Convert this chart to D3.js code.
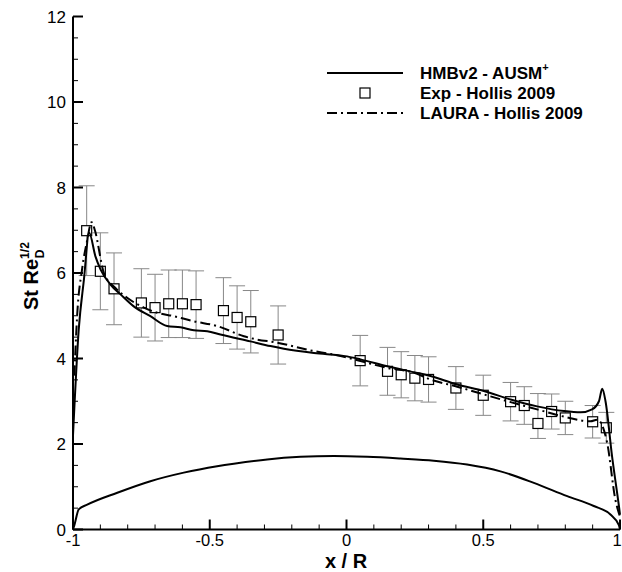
<!DOCTYPE html>
<html>
<head>
<meta charset="utf-8">
<script src="https://cdn.jsdelivr.net/npm/d3@7"></script>
<style>
  body { margin: 0; background: #fff; }
  svg { display: block; font-family: "Liberation Sans", Arial, sans-serif; }
</style>
</head>
<body>
<div id="chart"></div>
<script>
// HMBv2 - AUSM+ (solid)
const hmbX = [-1, -0.979, -0.96, -0.941, -0.918, -0.899, -0.863, -0.826, -0.778, -0.717, -0.656, -0.607, -0.558, -0.509, -0.461, -0.351, -0.278, -0.229, -0.119, 0.002, 0.051, 0.149, 0.246, 0.307, 0.405, 0.502, 0.6, 0.697, 0.795, 0.856, 0.898, 0.923, 0.935, 0.947, 0.971, 0.996, 1];
const hmbY = [2.2, 4.68, 5.85, 6.94, 6.39, 6.08, 5.73, 5.5, 5.22, 4.99, 4.76, 4.73, 4.66, 4.64, 4.56, 4.4, 4.29, 4.23, 4.13, 4.05, 3.98, 3.82, 3.68, 3.59, 3.39, 3.24, 3.04, 2.88, 2.77, 2.74, 2.81, 3.0, 3.29, 3.0, 1.71, 0.55, 0.35];

// LAURA - Hollis 2009 (dash-dot)
const lauraX = [-0.995, -0.985, -0.967, -0.949, -0.932, -0.92, -0.887, -0.845, -0.802, -0.741, -0.692, -0.631, -0.558, -0.473, -0.375, -0.339, -0.253, -0.132, -0.046, 0.051, 0.149, 0.246, 0.307, 0.405, 0.502, 0.6, 0.697, 0.795, 0.892, 0.917, 0.953, 0.983, 1];
const lauraY = [3.6, 4.99, 6.08, 6.74, 7.19, 7.0, 6.0, 5.65, 5.42, 5.19, 5.07, 4.99, 4.87, 4.76, 4.52, 4.46, 4.37, 4.19, 4.09, 3.94, 3.78, 3.67, 3.51, 3.34, 3.16, 2.98, 2.81, 2.64, 2.53, 2.57, 2.03, 0.7, 0.3];

// body contour
const bodyX = [-1, -0.995, -0.979, -0.948, -0.838, -0.717, -0.595, -0.473, -0.412, -0.29, -0.168, -0.046, 0.076, 0.197, 0.319, 0.441, 0.563, 0.685, 0.807, 0.904, 0.965, 0.996, 1];
const bodyY = [0, 0.1, 0.47, 0.58, 0.86, 1.13, 1.33, 1.48, 1.54, 1.64, 1.7, 1.72, 1.7, 1.66, 1.61, 1.52, 1.36, 1.09, 0.78, 0.55, 0.35, 0.1, 0];

// Exp - Hollis 2009
const expX = [-0.95, -0.9, -0.85, -0.75, -0.7, -0.65, -0.6, -0.55, -0.45, -0.4, -0.35, -0.25, 0.05, 0.15, 0.2, 0.25, 0.3, 0.4, 0.5, 0.6, 0.65, 0.7, 0.75, 0.8, 0.9, 0.95];
const expY = [6.99, 6.04, 5.63, 5.3, 5.19, 5.28, 5.28, 5.26, 5.12, 4.96, 4.86, 4.55, 3.95, 3.7, 3.62, 3.54, 3.51, 3.31, 3.14, 2.99, 2.9, 2.48, 2.76, 2.61, 2.52, 2.38];
const expHi = [8.04, 6.94, 6.47, 6.1, 5.97, 6.07, 6.07, 6.05, 5.89, 5.7, 5.59, 5.23, 4.54, 4.26, 4.16, 4.07, 4.04, 3.81, 3.61, 3.44, 3.34, 3.18, 3.17, 3.0, 2.9, 2.74];
const expLo = [5.94, 5.14, 4.79, 4.5, 4.41, 4.49, 4.49, 4.47, 4.35, 4.22, 4.13, 3.87, 3.36, 3.14, 3.08, 3.01, 2.98, 2.81, 2.67, 2.54, 2.46, 2.13, 2.35, 2.22, 2.14, 2.02];

const xTicks = [-1, -0.5, 0, 0.5, 1];
const xTickLabels = ["-1", "-0.5", "0", "0.5", "1"];
const yTicks = [0, 2, 4, 6, 8, 10, 12];

const legendNames = ["HMBv2 - AUSM", "Exp - Hollis 2009", "LAURA - Hollis 2009"];

const width = 622, height = 572;
const x = d3.scaleLinear().domain([-1, 1]).range([73, 620]);
const y = d3.scaleLinear().domain([0, 12]).range([529.5, 16.5]);

const svg = d3.select("#chart").append("svg")
    .attr("width", width)
    .attr("height", height);

const zip = (xs, ys) => xs.map((v, i) => [v, ys[i]]);
const line = d3.line().x(d => x(d[0])).y(d => y(d[1])).curve(d3.curveMonotoneX);
const dashDot = "10,4,2,4";

// error bars
const eb = svg.append("g").attr("stroke", "#888").attr("stroke-width", 1);
expX.forEach((v, i) => {
    const cx = x(v);
    eb.append("line").attr("x1", cx).attr("x2", cx).attr("y1", y(expHi[i])).attr("y2", y(expLo[i]));
    eb.append("line").attr("x1", cx - 8).attr("x2", cx + 8).attr("y1", y(expHi[i])).attr("y2", y(expHi[i]));
    eb.append("line").attr("x1", cx - 8).attr("x2", cx + 8).attr("y1", y(expLo[i])).attr("y2", y(expLo[i]));
});

// squares
svg.append("g").selectAll("rect")
    .data(zip(expX, expY))
    .enter().append("rect")
    .attr("x", d => x(d[0]) - 5)
    .attr("y", d => y(d[1]) - 5)
    .attr("width", 10).attr("height", 10)
    .attr("fill", "#fff")
    .attr("stroke", "#000")
    .attr("stroke-width", 1.2);

svg.append("path").datum(zip(bodyX, bodyY))
    .attr("d", line).attr("fill", "none").attr("stroke", "#000").attr("stroke-width", 2);

svg.append("path").datum(zip(lauraX, lauraY))
    .attr("d", line).attr("fill", "none").attr("stroke", "#000").attr("stroke-width", 2)
    .attr("stroke-dasharray", dashDot);

svg.append("path").datum(zip(hmbX, hmbY))
    .attr("d", line).attr("fill", "none").attr("stroke", "#000").attr("stroke-width", 2);

// axes
const ax = svg.append("g").attr("stroke", "#000");
ax.append("line").attr("x1", x(-1)).attr("x2", x(1)).attr("y1", y(0)).attr("y2", y(0)).attr("stroke-width", 2);
ax.append("line").attr("x1", x(-1)).attr("x2", x(-1)).attr("y1", y(0)).attr("y2", y(12)).attr("stroke-width", 2);

d3.range(-10, 11).forEach(k => {
    const v = k / 10;
    const major = k % 5 === 0;
    ax.append("line").attr("x1", x(v)).attr("x2", x(v))
        .attr("y1", y(0)).attr("y2", y(0) - (major ? 10 : 5))
        .attr("stroke-width", major ? 2 : 1);
});
d3.range(0, 25).forEach(k => {
    const v = k / 2;
    const major = k % 4 === 0;
    ax.append("line").attr("x1", x(-1)).attr("x2", x(-1) + (major ? 10 : 5))
        .attr("y1", y(v)).attr("y2", y(v))
        .attr("stroke-width", major ? 2 : 1);
});

svg.append("g").selectAll("text")
    .data(xTicks)
    .enter().append("text")
    .attr("x", d => Math.min(x(d), 617)).attr("y", 545.5)
    .attr("text-anchor", "middle")
    .attr("font-size", 16.5)
    .text((d, i) => xTickLabels[i]);

svg.append("g").selectAll("text")
    .data(yTicks)
    .enter().append("text")
    .attr("x", 66).attr("y", d => y(d) + 6)
    .attr("text-anchor", "end")
    .attr("font-size", 17)
    .text(d => d);

svg.append("text")
    .attr("x", 346).attr("y", 567.5)
    .attr("text-anchor", "middle")
    .attr("font-size", 20).attr("font-weight", "bold")
    .text("x / R");

const yl = svg.append("text")
    .attr("transform", "translate(38,310) rotate(-90)")
    .attr("font-size", 20).attr("font-weight", "bold");
yl.append("tspan").text("St Re");
yl.append("tspan").attr("font-size", 12).attr("dy", -9).text("1/2");
yl.append("tspan").attr("font-size", 12).attr("dx", -16).attr("dy", 15).text("D");

// legend
const lg = svg.append("g");
lg.append("line").attr("x1", 327).attr("x2", 403).attr("y1", 73).attr("y2", 73)
    .attr("stroke", "#000").attr("stroke-width", 2.2);
lg.append("rect").attr("x", 360).attr("y", 88).attr("width", 10).attr("height", 10)
    .attr("fill", "#fff").attr("stroke", "#000").attr("stroke-width", 1.2);
lg.append("line").attr("x1", 327).attr("x2", 403).attr("y1", 113).attr("y2", 113)
    .attr("stroke", "#000").attr("stroke-width", 2.2).attr("stroke-dasharray", dashDot);

const lt = lg.selectAll("text")
    .data(legendNames)
    .enter().append("text")
    .attr("x", 420).attr("y", (d, i) => 79 + i * 20)
    .attr("font-size", 17).attr("font-weight", "bold")
    .text(d => d);
lt.filter((d, i) => i === 0).append("tspan")
    .attr("font-size", 11).attr("dy", -8).text("+");
</script>
</body>
</html>
